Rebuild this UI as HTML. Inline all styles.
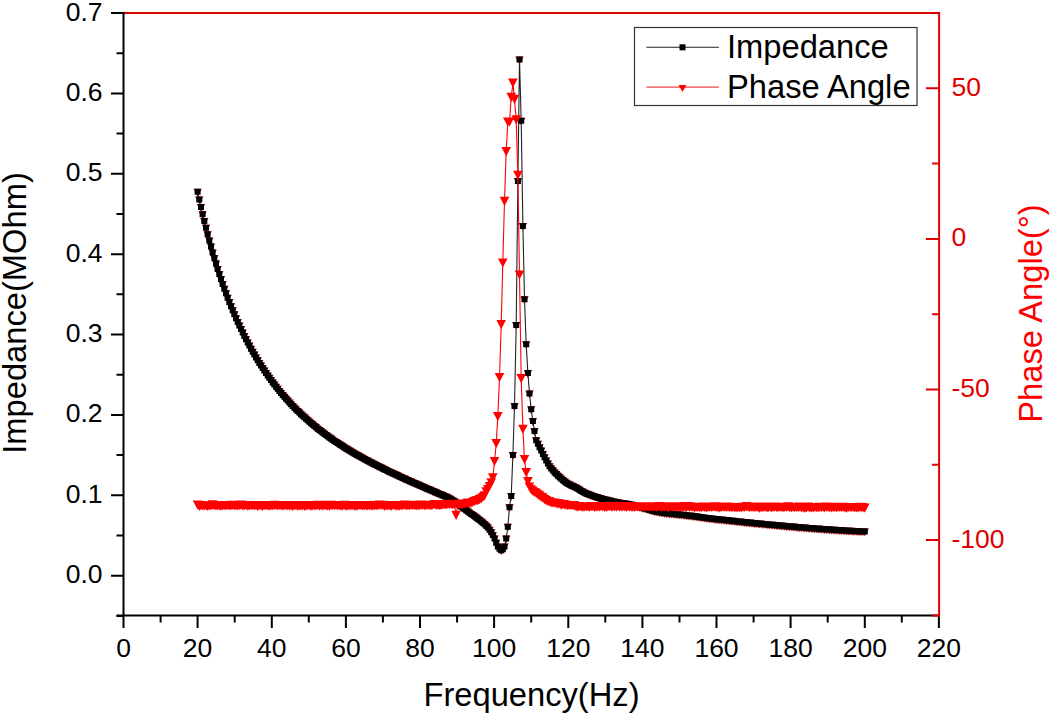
<!DOCTYPE html>
<html><head><meta charset="utf-8"><style>
html,body{margin:0;padding:0;background:#fff;width:1050px;height:715px;overflow:hidden}
svg{display:block}
text{font-family:'Liberation Sans',sans-serif}
</style></head><body>
<svg width="1050" height="715" viewBox="0 0 1050 715">
<rect width="1050" height="715" fill="#fff"/>
<!-- data -->
<path d="M197.6 191.8 L199.3 199.5 L201 207 L202.6 214.2 L204.3 221.1 L206 227.8 L207.6 234.3 L209.3 240.5 L211 246.6 L212.6 252.4 L214.3 258.1 L216 263.6 L217.6 268.9 L219.3 274.1 L221 279.1 L222.6 284 L224.3 288.7 L226 293.3 L227.6 297.7 L229.3 302 L231 306.2 L232.7 310.3 L234.3 314.3 L236 318.2 L237.7 321.9 L239.3 325.6 L241 329.1 L242.7 332.6 L244.3 336 L246 339.3 L247.7 342.5 L249.3 345.6 L251 348.7 L252.7 351.7 L254.3 354.6 L256 357.4 L257.7 360.2 L259.3 362.9 L261 365.5 L262.7 368.1 L264.3 370.6 L266 373.1 L267.7 375.5 L269.3 377.8 L271 380.1 L272.7 382.4 L274.3 384.6 L276 386.7 L277.7 388.8 L279.4 390.9 L281 392.9 L282.7 394.9 L284.4 396.8 L286 398.7 L287.7 400.6 L289.4 402.4 L291 404.2 L292.7 406 L294.4 407.7 L296 409.4 L297.7 411 L299.4 412.6 L301 414.2 L302.7 415.8 L304.4 417.3 L306 418.8 L307.7 420.3 L309.4 421.8 L311 423.2 L312.7 424.6 L314.4 426 L316 427.3 L317.7 428.7 L319.4 430 L321 431.3 L322.7 432.5 L324.4 433.8 L326.1 435 L327.7 436.2 L329.4 437.4 L331.1 438.6 L332.7 439.7 L334.4 440.9 L336.1 442 L337.7 443.1 L339.4 444.2 L341.1 445.3 L342.7 446.3 L344.4 447.4 L346.1 448.4 L347.7 449.4 L349.4 450.5 L351.1 451.5 L352.7 452.4 L354.4 453.4 L356.1 454.4 L357.7 455.3 L359.4 456.3 L361.1 457.2 L362.7 458.1 L364.4 459 L366.1 459.9 L367.7 460.8 L369.4 461.7 L371.1 462.6 L372.8 463.4 L374.4 464.3 L376.1 465.1 L377.8 466 L379.4 466.8 L381.1 467.6 L382.8 468.5 L384.4 469.3 L386.1 470.1 L387.8 470.9 L389.4 471.7 L391.1 472.5 L392.8 473.3 L394.4 474 L396.1 474.8 L397.8 475.6 L399.4 476.4 L401.1 477.1 L402.8 477.9 L404.4 478.6 L406.1 479.4 L407.8 480.1 L409.4 480.9 L411.1 481.6 L412.8 482.4 L414.4 483.1 L416.1 483.8 L417.8 484.6 L419.5 485.3 L421.1 486 L422.8 486.7 L424.5 487.5 L426.1 488.2 L427.8 488.9 L429.5 489.6 L431.1 490.3 L432.8 491.1 L434.5 491.8 L436.1 492.5 L437.8 493.2 L439.5 493.9 L441.1 494.6 L442.8 495.3 L444.5 496 L446.1 496.8 L447.8 497.6 L449.5 498.5 L451.1 499.4 L452.8 500.4 L454.5 501.5 L456.1 502.7 L457.8 503.9 L459.5 505.2 L461.1 506.5 L462.8 507.7 L464.5 509 L466.2 510.3 L467.8 511.5 L469.5 512.7 L471.2 513.9 L472.8 515.1 L474.5 516.2 L476.2 517.5 L477.8 518.7 L479.5 520 L481.2 521.4 L482.8 522.8 L484.5 524.2 L486.2 525.8 L487.8 527.6 L489.5 529.7 L491.2 532.2 L492.8 535.1 L494.5 538.4 L496.2 542.7 L497.8 546.4 L499.5 548.8 L501.2 550.2 L502.8 549.2 L504.5 546.6 L506.2 538.5 L507.8 526.8 L509.5 507.2 L511.2 495.9 L512.9 455.1 L514.5 406.1 L516.2 324.9 L517.9 181 L519.5 59.6 L521.2 120.7 L522.9 226 L524.5 299.2 L526.2 344.2 L527.9 373.1 L529.5 393.4 L531.2 409.3 L532.9 421.1 L534.5 431.1 L536.2 440.3 L537.9 443.8 L539.5 447.3 L541.2 450.6 L542.9 453.9 L544.5 457.2 L546.2 460.5 L547.9 463.6 L549.5 466.3 L551.2 468.6 L552.9 470.6 L554.6 472.4 L556.2 474.1 L557.9 475.7 L559.6 477.3 L561.2 478.8 L562.9 480.2 L564.6 481.6 L566.2 482.7 L567.9 483.7 L569.6 484.6 L571.2 485.4 L572.9 486.1 L574.6 486.9 L576.2 487.8 L577.9 488.8 L579.6 489.8 L581.2 490.9 L582.9 491.8 L584.6 492.7 L586.2 493.4 L587.9 494 L589.6 494.7 L591.2 495.3 L592.9 495.9 L594.6 496.5 L596.2 497 L597.9 497.5 L599.6 498 L601.3 498.5 L602.9 499 L604.6 499.4 L606.3 499.8 L607.9 500.2 L609.6 500.6 L611.3 501 L612.9 501.4 L614.6 501.7 L616.3 502.1 L617.9 502.4 L619.6 502.7 L621.3 503 L622.9 503.2 L624.6 503.5 L626.3 503.8 L627.9 504.1 L629.6 504.5 L631.3 504.8 L632.9 505.2 L634.6 505.6 L636.3 506 L637.9 506.4 L639.6 506.9 L641.3 507.4 L642.9 507.9 L644.6 508.3 L646.3 508.8 L648 509.3 L649.6 509.8 L651.3 510.2 L653 510.7 L654.6 511.1 L656.3 511.5 L658 511.8 L659.6 512.1 L661.3 512.4 L663 512.6 L664.6 512.9 L666.3 513.1 L668 513.3 L669.6 513.5 L671.3 513.7 L673 513.8 L674.6 514 L676.3 514.2 L678 514.3 L679.6 514.5 L681.3 514.7 L683 514.8 L684.6 515 L686.3 515.2 L688 515.4 L689.6 515.6 L691.3 515.8 L693 516.1 L694.7 516.3 L696.3 516.5 L698 516.7 L699.7 517 L701.3 517.2 L703 517.4 L704.7 517.7 L706.3 517.9 L708 518.1 L709.7 518.3 L711.3 518.5 L713 518.7 L714.7 518.9 L716.3 519.1 L718 519.3 L719.7 519.4 L721.3 519.6 L723 519.8 L724.7 520 L726.3 520.1 L728 520.3 L729.7 520.5 L731.3 520.7 L733 520.8 L734.7 521 L736.3 521.2 L738 521.4 L739.7 521.5 L741.4 521.7 L743 521.9 L744.7 522.1 L746.4 522.2 L748 522.4 L749.7 522.6 L751.4 522.7 L753 522.9 L754.7 523.1 L756.4 523.2 L758 523.4 L759.7 523.6 L761.4 523.7 L763 523.9 L764.7 524 L766.4 524.2 L768 524.4 L769.7 524.5 L771.4 524.7 L773 524.8 L774.7 525 L776.4 525.1 L778 525.3 L779.7 525.5 L781.4 525.6 L783 525.8 L784.7 525.9 L786.4 526.1 L788.1 526.2 L789.7 526.3 L791.4 526.5 L793.1 526.6 L794.7 526.8 L796.4 526.9 L798.1 527.1 L799.7 527.2 L801.4 527.3 L803.1 527.5 L804.7 527.6 L806.4 527.7 L808.1 527.9 L809.7 528 L811.4 528.1 L813.1 528.3 L814.7 528.4 L816.4 528.5 L818.1 528.6 L819.7 528.8 L821.4 528.9 L823.1 529 L824.7 529.1 L826.4 529.2 L828.1 529.3 L829.7 529.5 L831.4 529.6 L833.1 529.7 L834.8 529.8 L836.4 529.9 L838.1 530 L839.8 530.1 L841.4 530.2 L843.1 530.3 L844.8 530.4 L846.4 530.5 L848.1 530.6 L849.8 530.7 L851.4 530.8 L853.1 530.9 L854.8 530.9 L856.4 531 L858.1 531.1 L859.8 531.2 L861.4 531.3 L863.1 531.3 L864.8 531.4" fill="none" stroke="#222" stroke-width="1.1"/>
<path d="M193.4 188.8h8.4l-4.2 7.8zM195.1 196.5h8.4l-4.2 7.8zM196.8 204h8.4l-4.2 7.8zM198.4 211.2h8.4l-4.2 7.8zM200.1 218.1h8.4l-4.2 7.8zM201.8 224.8h8.4l-4.2 7.8zM203.4 231.3h8.4l-4.2 7.8zM205.1 237.5h8.4l-4.2 7.8zM206.8 243.6h8.4l-4.2 7.8zM208.4 249.4h8.4l-4.2 7.8zM210.1 255.1h8.4l-4.2 7.8zM211.8 260.6h8.4l-4.2 7.8zM213.4 265.9h8.4l-4.2 7.8zM215.1 271.1h8.4l-4.2 7.8zM216.8 276.1h8.4l-4.2 7.8zM218.4 281h8.4l-4.2 7.8zM220.1 285.7h8.4l-4.2 7.8zM221.8 290.3h8.4l-4.2 7.8zM223.4 294.7h8.4l-4.2 7.8zM225.1 299h8.4l-4.2 7.8zM226.8 303.2h8.4l-4.2 7.8zM228.5 307.3h8.4l-4.2 7.8zM230.1 311.3h8.4l-4.2 7.8zM231.8 315.2h8.4l-4.2 7.8zM233.5 318.9h8.4l-4.2 7.8zM235.1 322.6h8.4l-4.2 7.8zM236.8 326.1h8.4l-4.2 7.8zM238.5 329.6h8.4l-4.2 7.8zM240.1 333h8.4l-4.2 7.8zM241.8 336.3h8.4l-4.2 7.8zM243.5 339.5h8.4l-4.2 7.8zM245.1 342.6h8.4l-4.2 7.8zM246.8 345.7h8.4l-4.2 7.8zM248.5 348.7h8.4l-4.2 7.8zM250.1 351.6h8.4l-4.2 7.8zM251.8 354.4h8.4l-4.2 7.8zM253.5 357.2h8.4l-4.2 7.8zM255.1 359.9h8.4l-4.2 7.8zM256.8 362.5h8.4l-4.2 7.8zM258.5 365.1h8.4l-4.2 7.8zM260.1 367.6h8.4l-4.2 7.8zM261.8 370.1h8.4l-4.2 7.8zM263.5 372.5h8.4l-4.2 7.8zM265.1 374.8h8.4l-4.2 7.8zM266.8 377.1h8.4l-4.2 7.8zM268.5 379.4h8.4l-4.2 7.8zM270.1 381.6h8.4l-4.2 7.8zM271.8 383.7h8.4l-4.2 7.8zM273.5 385.8h8.4l-4.2 7.8zM275.2 387.9h8.4l-4.2 7.8zM276.8 389.9h8.4l-4.2 7.8zM278.5 391.9h8.4l-4.2 7.8zM280.2 393.8h8.4l-4.2 7.8zM281.8 395.7h8.4l-4.2 7.8zM283.5 397.6h8.4l-4.2 7.8zM285.2 399.4h8.4l-4.2 7.8zM286.8 401.2h8.4l-4.2 7.8zM288.5 403h8.4l-4.2 7.8zM290.2 404.7h8.4l-4.2 7.8zM291.8 406.4h8.4l-4.2 7.8zM293.5 408h8.4l-4.2 7.8zM295.2 409.6h8.4l-4.2 7.8zM296.8 411.2h8.4l-4.2 7.8zM298.5 412.8h8.4l-4.2 7.8zM300.2 414.3h8.4l-4.2 7.8zM301.8 415.8h8.4l-4.2 7.8zM303.5 417.3h8.4l-4.2 7.8zM305.2 418.8h8.4l-4.2 7.8zM306.8 420.2h8.4l-4.2 7.8zM308.5 421.6h8.4l-4.2 7.8zM310.2 423h8.4l-4.2 7.8zM311.8 424.3h8.4l-4.2 7.8zM313.5 425.7h8.4l-4.2 7.8zM315.2 427h8.4l-4.2 7.8zM316.8 428.3h8.4l-4.2 7.8zM318.5 429.5h8.4l-4.2 7.8zM320.2 430.8h8.4l-4.2 7.8zM321.9 432h8.4l-4.2 7.8zM323.5 433.2h8.4l-4.2 7.8zM325.2 434.4h8.4l-4.2 7.8zM326.9 435.6h8.4l-4.2 7.8zM328.5 436.7h8.4l-4.2 7.8zM330.2 437.9h8.4l-4.2 7.8zM331.9 439h8.4l-4.2 7.8zM333.5 440.1h8.4l-4.2 7.8zM335.2 441.2h8.4l-4.2 7.8zM336.9 442.3h8.4l-4.2 7.8zM338.5 443.3h8.4l-4.2 7.8zM340.2 444.4h8.4l-4.2 7.8zM341.9 445.4h8.4l-4.2 7.8zM343.5 446.4h8.4l-4.2 7.8zM345.2 447.5h8.4l-4.2 7.8zM346.9 448.5h8.4l-4.2 7.8zM348.5 449.4h8.4l-4.2 7.8zM350.2 450.4h8.4l-4.2 7.8zM351.9 451.4h8.4l-4.2 7.8zM353.5 452.3h8.4l-4.2 7.8zM355.2 453.3h8.4l-4.2 7.8zM356.9 454.2h8.4l-4.2 7.8zM358.5 455.1h8.4l-4.2 7.8zM360.2 456h8.4l-4.2 7.8zM361.9 456.9h8.4l-4.2 7.8zM363.5 457.8h8.4l-4.2 7.8zM365.2 458.7h8.4l-4.2 7.8zM366.9 459.6h8.4l-4.2 7.8zM368.6 460.4h8.4l-4.2 7.8zM370.2 461.3h8.4l-4.2 7.8zM371.9 462.1h8.4l-4.2 7.8zM373.6 463h8.4l-4.2 7.8zM375.2 463.8h8.4l-4.2 7.8zM376.9 464.6h8.4l-4.2 7.8zM378.6 465.5h8.4l-4.2 7.8zM380.2 466.3h8.4l-4.2 7.8zM381.9 467.1h8.4l-4.2 7.8zM383.6 467.9h8.4l-4.2 7.8zM385.2 468.7h8.4l-4.2 7.8zM386.9 469.5h8.4l-4.2 7.8zM388.6 470.3h8.4l-4.2 7.8zM390.2 471h8.4l-4.2 7.8zM391.9 471.8h8.4l-4.2 7.8zM393.6 472.6h8.4l-4.2 7.8zM395.2 473.4h8.4l-4.2 7.8zM396.9 474.1h8.4l-4.2 7.8zM398.6 474.9h8.4l-4.2 7.8zM400.2 475.6h8.4l-4.2 7.8zM401.9 476.4h8.4l-4.2 7.8zM403.6 477.1h8.4l-4.2 7.8zM405.2 477.9h8.4l-4.2 7.8zM406.9 478.6h8.4l-4.2 7.8zM408.6 479.4h8.4l-4.2 7.8zM410.2 480.1h8.4l-4.2 7.8zM411.9 480.8h8.4l-4.2 7.8zM413.6 481.6h8.4l-4.2 7.8zM415.3 482.3h8.4l-4.2 7.8zM416.9 483h8.4l-4.2 7.8zM418.6 483.7h8.4l-4.2 7.8zM420.3 484.5h8.4l-4.2 7.8zM421.9 485.2h8.4l-4.2 7.8zM423.6 485.9h8.4l-4.2 7.8zM425.3 486.6h8.4l-4.2 7.8zM426.9 487.3h8.4l-4.2 7.8zM428.6 488.1h8.4l-4.2 7.8zM430.3 488.8h8.4l-4.2 7.8zM431.9 489.5h8.4l-4.2 7.8zM433.6 490.2h8.4l-4.2 7.8zM435.3 490.9h8.4l-4.2 7.8zM436.9 491.6h8.4l-4.2 7.8zM438.6 492.3h8.4l-4.2 7.8zM440.3 493h8.4l-4.2 7.8zM441.9 493.8h8.4l-4.2 7.8zM443.6 494.6h8.4l-4.2 7.8zM445.3 495.5h8.4l-4.2 7.8zM446.9 496.4h8.4l-4.2 7.8zM448.6 497.4h8.4l-4.2 7.8zM450.3 498.5h8.4l-4.2 7.8zM451.9 499.7h8.4l-4.2 7.8zM453.6 500.9h8.4l-4.2 7.8zM455.3 502.2h8.4l-4.2 7.8zM456.9 503.5h8.4l-4.2 7.8zM458.6 504.7h8.4l-4.2 7.8zM460.3 506h8.4l-4.2 7.8zM462 507.3h8.4l-4.2 7.8zM463.6 508.5h8.4l-4.2 7.8zM465.3 509.7h8.4l-4.2 7.8zM467 510.9h8.4l-4.2 7.8zM468.6 512.1h8.4l-4.2 7.8zM470.3 513.2h8.4l-4.2 7.8zM472 514.5h8.4l-4.2 7.8zM473.6 515.7h8.4l-4.2 7.8zM475.3 517h8.4l-4.2 7.8zM477 518.4h8.4l-4.2 7.8zM478.6 519.8h8.4l-4.2 7.8zM480.3 521.2h8.4l-4.2 7.8zM482 522.8h8.4l-4.2 7.8zM483.6 524.6h8.4l-4.2 7.8zM485.3 526.7h8.4l-4.2 7.8zM487 529.2h8.4l-4.2 7.8zM488.6 532.1h8.4l-4.2 7.8zM490.3 535.4h8.4l-4.2 7.8zM492 539.7h8.4l-4.2 7.8zM493.6 543.4h8.4l-4.2 7.8zM495.3 545.8h8.4l-4.2 7.8zM497 547.2h8.4l-4.2 7.8zM498.6 546.2h8.4l-4.2 7.8zM500.3 543.6h8.4l-4.2 7.8zM502 535.5h8.4l-4.2 7.8zM503.6 523.8h8.4l-4.2 7.8zM505.3 504.2h8.4l-4.2 7.8zM507 492.9h8.4l-4.2 7.8zM508.7 452.1h8.4l-4.2 7.8zM510.3 403.1h8.4l-4.2 7.8zM512 321.9h8.4l-4.2 7.8zM513.7 178h8.4l-4.2 7.8zM515.3 56.6h8.4l-4.2 7.8zM517 117.7h8.4l-4.2 7.8zM518.7 223h8.4l-4.2 7.8zM520.3 296.2h8.4l-4.2 7.8zM522 341.2h8.4l-4.2 7.8zM523.7 370.1h8.4l-4.2 7.8zM525.3 390.4h8.4l-4.2 7.8zM527 406.3h8.4l-4.2 7.8zM528.7 418.1h8.4l-4.2 7.8zM530.3 428.1h8.4l-4.2 7.8zM532 437.3h8.4l-4.2 7.8zM533.7 440.8h8.4l-4.2 7.8zM535.3 444.3h8.4l-4.2 7.8zM537 447.6h8.4l-4.2 7.8zM538.7 450.9h8.4l-4.2 7.8zM540.3 454.2h8.4l-4.2 7.8zM542 457.5h8.4l-4.2 7.8zM543.7 460.6h8.4l-4.2 7.8zM545.3 463.3h8.4l-4.2 7.8zM547 465.6h8.4l-4.2 7.8zM548.7 467.6h8.4l-4.2 7.8zM550.4 469.4h8.4l-4.2 7.8zM552 471.1h8.4l-4.2 7.8zM553.7 472.7h8.4l-4.2 7.8zM555.4 474.3h8.4l-4.2 7.8zM557 475.8h8.4l-4.2 7.8zM558.7 477.2h8.4l-4.2 7.8zM560.4 478.6h8.4l-4.2 7.8zM562 479.7h8.4l-4.2 7.8zM563.7 480.7h8.4l-4.2 7.8zM565.4 481.6h8.4l-4.2 7.8zM567 482.4h8.4l-4.2 7.8zM568.7 483.1h8.4l-4.2 7.8zM570.4 483.9h8.4l-4.2 7.8zM572 484.8h8.4l-4.2 7.8zM573.7 485.8h8.4l-4.2 7.8zM575.4 486.8h8.4l-4.2 7.8zM577 487.9h8.4l-4.2 7.8zM578.7 488.8h8.4l-4.2 7.8zM580.4 489.7h8.4l-4.2 7.8zM582 490.4h8.4l-4.2 7.8zM583.7 491h8.4l-4.2 7.8zM585.4 491.7h8.4l-4.2 7.8zM587 492.3h8.4l-4.2 7.8zM588.7 492.9h8.4l-4.2 7.8zM590.4 493.5h8.4l-4.2 7.8zM592 494h8.4l-4.2 7.8zM593.7 494.5h8.4l-4.2 7.8zM595.4 495h8.4l-4.2 7.8zM597.1 495.5h8.4l-4.2 7.8zM598.7 496h8.4l-4.2 7.8zM600.4 496.4h8.4l-4.2 7.8zM602.1 496.8h8.4l-4.2 7.8zM603.7 497.2h8.4l-4.2 7.8zM605.4 497.6h8.4l-4.2 7.8zM607.1 498h8.4l-4.2 7.8zM608.7 498.4h8.4l-4.2 7.8zM610.4 498.7h8.4l-4.2 7.8zM612.1 499.1h8.4l-4.2 7.8zM613.7 499.4h8.4l-4.2 7.8zM615.4 499.7h8.4l-4.2 7.8zM617.1 500h8.4l-4.2 7.8zM618.7 500.2h8.4l-4.2 7.8zM620.4 500.5h8.4l-4.2 7.8zM622.1 500.8h8.4l-4.2 7.8zM623.7 501.1h8.4l-4.2 7.8zM625.4 501.5h8.4l-4.2 7.8zM627.1 501.8h8.4l-4.2 7.8zM628.7 502.2h8.4l-4.2 7.8zM630.4 502.6h8.4l-4.2 7.8zM632.1 503h8.4l-4.2 7.8zM633.7 503.4h8.4l-4.2 7.8zM635.4 503.9h8.4l-4.2 7.8zM637.1 504.4h8.4l-4.2 7.8zM638.7 504.9h8.4l-4.2 7.8zM640.4 505.3h8.4l-4.2 7.8zM642.1 505.8h8.4l-4.2 7.8zM643.8 506.3h8.4l-4.2 7.8zM645.4 506.8h8.4l-4.2 7.8zM647.1 507.2h8.4l-4.2 7.8zM648.8 507.7h8.4l-4.2 7.8zM650.4 508.1h8.4l-4.2 7.8zM652.1 508.5h8.4l-4.2 7.8zM653.8 508.8h8.4l-4.2 7.8zM655.4 509.1h8.4l-4.2 7.8zM657.1 509.4h8.4l-4.2 7.8zM658.8 509.6h8.4l-4.2 7.8zM660.4 509.9h8.4l-4.2 7.8zM662.1 510.1h8.4l-4.2 7.8zM663.8 510.3h8.4l-4.2 7.8zM665.4 510.5h8.4l-4.2 7.8zM667.1 510.7h8.4l-4.2 7.8zM668.8 510.8h8.4l-4.2 7.8zM670.4 511h8.4l-4.2 7.8zM672.1 511.2h8.4l-4.2 7.8zM673.8 511.3h8.4l-4.2 7.8zM675.4 511.5h8.4l-4.2 7.8zM677.1 511.7h8.4l-4.2 7.8zM678.8 511.8h8.4l-4.2 7.8zM680.4 512h8.4l-4.2 7.8zM682.1 512.2h8.4l-4.2 7.8zM683.8 512.4h8.4l-4.2 7.8zM685.4 512.6h8.4l-4.2 7.8zM687.1 512.8h8.4l-4.2 7.8zM688.8 513.1h8.4l-4.2 7.8zM690.5 513.3h8.4l-4.2 7.8zM692.1 513.5h8.4l-4.2 7.8zM693.8 513.7h8.4l-4.2 7.8zM695.5 514h8.4l-4.2 7.8zM697.1 514.2h8.4l-4.2 7.8zM698.8 514.4h8.4l-4.2 7.8zM700.5 514.7h8.4l-4.2 7.8zM702.1 514.9h8.4l-4.2 7.8zM703.8 515.1h8.4l-4.2 7.8zM705.5 515.3h8.4l-4.2 7.8zM707.1 515.5h8.4l-4.2 7.8zM708.8 515.7h8.4l-4.2 7.8zM710.5 515.9h8.4l-4.2 7.8zM712.1 516.1h8.4l-4.2 7.8zM713.8 516.3h8.4l-4.2 7.8zM715.5 516.4h8.4l-4.2 7.8zM717.1 516.6h8.4l-4.2 7.8zM718.8 516.8h8.4l-4.2 7.8zM720.5 517h8.4l-4.2 7.8zM722.1 517.1h8.4l-4.2 7.8zM723.8 517.3h8.4l-4.2 7.8zM725.5 517.5h8.4l-4.2 7.8zM727.1 517.7h8.4l-4.2 7.8zM728.8 517.8h8.4l-4.2 7.8zM730.5 518h8.4l-4.2 7.8zM732.1 518.2h8.4l-4.2 7.8zM733.8 518.4h8.4l-4.2 7.8zM735.5 518.5h8.4l-4.2 7.8zM737.2 518.7h8.4l-4.2 7.8zM738.8 518.9h8.4l-4.2 7.8zM740.5 519.1h8.4l-4.2 7.8zM742.2 519.2h8.4l-4.2 7.8zM743.8 519.4h8.4l-4.2 7.8zM745.5 519.6h8.4l-4.2 7.8zM747.2 519.7h8.4l-4.2 7.8zM748.8 519.9h8.4l-4.2 7.8zM750.5 520.1h8.4l-4.2 7.8zM752.2 520.2h8.4l-4.2 7.8zM753.8 520.4h8.4l-4.2 7.8zM755.5 520.6h8.4l-4.2 7.8zM757.2 520.7h8.4l-4.2 7.8zM758.8 520.9h8.4l-4.2 7.8zM760.5 521h8.4l-4.2 7.8zM762.2 521.2h8.4l-4.2 7.8zM763.8 521.4h8.4l-4.2 7.8zM765.5 521.5h8.4l-4.2 7.8zM767.2 521.7h8.4l-4.2 7.8zM768.8 521.8h8.4l-4.2 7.8zM770.5 522h8.4l-4.2 7.8zM772.2 522.1h8.4l-4.2 7.8zM773.8 522.3h8.4l-4.2 7.8zM775.5 522.5h8.4l-4.2 7.8zM777.2 522.6h8.4l-4.2 7.8zM778.8 522.8h8.4l-4.2 7.8zM780.5 522.9h8.4l-4.2 7.8zM782.2 523.1h8.4l-4.2 7.8zM783.9 523.2h8.4l-4.2 7.8zM785.5 523.3h8.4l-4.2 7.8zM787.2 523.5h8.4l-4.2 7.8zM788.9 523.6h8.4l-4.2 7.8zM790.5 523.8h8.4l-4.2 7.8zM792.2 523.9h8.4l-4.2 7.8zM793.9 524.1h8.4l-4.2 7.8zM795.5 524.2h8.4l-4.2 7.8zM797.2 524.3h8.4l-4.2 7.8zM798.9 524.5h8.4l-4.2 7.8zM800.5 524.6h8.4l-4.2 7.8zM802.2 524.7h8.4l-4.2 7.8zM803.9 524.9h8.4l-4.2 7.8zM805.5 525h8.4l-4.2 7.8zM807.2 525.1h8.4l-4.2 7.8zM808.9 525.3h8.4l-4.2 7.8zM810.5 525.4h8.4l-4.2 7.8zM812.2 525.5h8.4l-4.2 7.8zM813.9 525.6h8.4l-4.2 7.8zM815.5 525.8h8.4l-4.2 7.8zM817.2 525.9h8.4l-4.2 7.8zM818.9 526h8.4l-4.2 7.8zM820.5 526.1h8.4l-4.2 7.8zM822.2 526.2h8.4l-4.2 7.8zM823.9 526.3h8.4l-4.2 7.8zM825.5 526.5h8.4l-4.2 7.8zM827.2 526.6h8.4l-4.2 7.8zM828.9 526.7h8.4l-4.2 7.8zM830.6 526.8h8.4l-4.2 7.8zM832.2 526.9h8.4l-4.2 7.8zM833.9 527h8.4l-4.2 7.8zM835.6 527.1h8.4l-4.2 7.8zM837.2 527.2h8.4l-4.2 7.8zM838.9 527.3h8.4l-4.2 7.8zM840.6 527.4h8.4l-4.2 7.8zM842.2 527.5h8.4l-4.2 7.8zM843.9 527.6h8.4l-4.2 7.8zM845.6 527.7h8.4l-4.2 7.8zM847.2 527.8h8.4l-4.2 7.8zM848.9 527.9h8.4l-4.2 7.8zM850.6 527.9h8.4l-4.2 7.8zM852.2 528h8.4l-4.2 7.8zM853.9 528.1h8.4l-4.2 7.8zM855.6 528.2h8.4l-4.2 7.8zM857.2 528.3h8.4l-4.2 7.8zM858.9 528.3h8.4l-4.2 7.8zM860.6 528.4h8.4l-4.2 7.8z" fill="#900"/>
<path d="M194.6 188.8h6.0v6.0h-6.0zM196.3 196.5h6.0v6.0h-6.0zM198 204h6.0v6.0h-6.0zM199.6 211.2h6.0v6.0h-6.0zM201.3 218.1h6.0v6.0h-6.0zM203 224.8h6.0v6.0h-6.0zM204.6 231.3h6.0v6.0h-6.0zM206.3 237.5h6.0v6.0h-6.0zM208 243.6h6.0v6.0h-6.0zM209.6 249.4h6.0v6.0h-6.0zM211.3 255.1h6.0v6.0h-6.0zM213 260.6h6.0v6.0h-6.0zM214.6 265.9h6.0v6.0h-6.0zM216.3 271.1h6.0v6.0h-6.0zM218 276.1h6.0v6.0h-6.0zM219.6 281h6.0v6.0h-6.0zM221.3 285.7h6.0v6.0h-6.0zM223 290.3h6.0v6.0h-6.0zM224.6 294.7h6.0v6.0h-6.0zM226.3 299h6.0v6.0h-6.0zM228 303.2h6.0v6.0h-6.0zM229.7 307.3h6.0v6.0h-6.0zM231.3 311.3h6.0v6.0h-6.0zM233 315.2h6.0v6.0h-6.0zM234.7 318.9h6.0v6.0h-6.0zM236.3 322.6h6.0v6.0h-6.0zM238 326.1h6.0v6.0h-6.0zM239.7 329.6h6.0v6.0h-6.0zM241.3 333h6.0v6.0h-6.0zM243 336.3h6.0v6.0h-6.0zM244.7 339.5h6.0v6.0h-6.0zM246.3 342.6h6.0v6.0h-6.0zM248 345.7h6.0v6.0h-6.0zM249.7 348.7h6.0v6.0h-6.0zM251.3 351.6h6.0v6.0h-6.0zM253 354.4h6.0v6.0h-6.0zM254.7 357.2h6.0v6.0h-6.0zM256.3 359.9h6.0v6.0h-6.0zM258 362.5h6.0v6.0h-6.0zM259.7 365.1h6.0v6.0h-6.0zM261.3 367.6h6.0v6.0h-6.0zM263 370.1h6.0v6.0h-6.0zM264.7 372.5h6.0v6.0h-6.0zM266.3 374.8h6.0v6.0h-6.0zM268 377.1h6.0v6.0h-6.0zM269.7 379.4h6.0v6.0h-6.0zM271.3 381.6h6.0v6.0h-6.0zM273 383.7h6.0v6.0h-6.0zM274.7 385.8h6.0v6.0h-6.0zM276.4 387.9h6.0v6.0h-6.0zM278 389.9h6.0v6.0h-6.0zM279.7 391.9h6.0v6.0h-6.0zM281.4 393.8h6.0v6.0h-6.0zM283 395.7h6.0v6.0h-6.0zM284.7 397.6h6.0v6.0h-6.0zM286.4 399.4h6.0v6.0h-6.0zM288 401.2h6.0v6.0h-6.0zM289.7 403h6.0v6.0h-6.0zM291.4 404.7h6.0v6.0h-6.0zM293 406.4h6.0v6.0h-6.0zM294.7 408h6.0v6.0h-6.0zM296.4 409.6h6.0v6.0h-6.0zM298 411.2h6.0v6.0h-6.0zM299.7 412.8h6.0v6.0h-6.0zM301.4 414.3h6.0v6.0h-6.0zM303 415.8h6.0v6.0h-6.0zM304.7 417.3h6.0v6.0h-6.0zM306.4 418.8h6.0v6.0h-6.0zM308 420.2h6.0v6.0h-6.0zM309.7 421.6h6.0v6.0h-6.0zM311.4 423h6.0v6.0h-6.0zM313 424.3h6.0v6.0h-6.0zM314.7 425.7h6.0v6.0h-6.0zM316.4 427h6.0v6.0h-6.0zM318 428.3h6.0v6.0h-6.0zM319.7 429.5h6.0v6.0h-6.0zM321.4 430.8h6.0v6.0h-6.0zM323.1 432h6.0v6.0h-6.0zM324.7 433.2h6.0v6.0h-6.0zM326.4 434.4h6.0v6.0h-6.0zM328.1 435.6h6.0v6.0h-6.0zM329.7 436.7h6.0v6.0h-6.0zM331.4 437.9h6.0v6.0h-6.0zM333.1 439h6.0v6.0h-6.0zM334.7 440.1h6.0v6.0h-6.0zM336.4 441.2h6.0v6.0h-6.0zM338.1 442.3h6.0v6.0h-6.0zM339.7 443.3h6.0v6.0h-6.0zM341.4 444.4h6.0v6.0h-6.0zM343.1 445.4h6.0v6.0h-6.0zM344.7 446.4h6.0v6.0h-6.0zM346.4 447.5h6.0v6.0h-6.0zM348.1 448.5h6.0v6.0h-6.0zM349.7 449.4h6.0v6.0h-6.0zM351.4 450.4h6.0v6.0h-6.0zM353.1 451.4h6.0v6.0h-6.0zM354.7 452.3h6.0v6.0h-6.0zM356.4 453.3h6.0v6.0h-6.0zM358.1 454.2h6.0v6.0h-6.0zM359.7 455.1h6.0v6.0h-6.0zM361.4 456h6.0v6.0h-6.0zM363.1 456.9h6.0v6.0h-6.0zM364.7 457.8h6.0v6.0h-6.0zM366.4 458.7h6.0v6.0h-6.0zM368.1 459.6h6.0v6.0h-6.0zM369.8 460.4h6.0v6.0h-6.0zM371.4 461.3h6.0v6.0h-6.0zM373.1 462.1h6.0v6.0h-6.0zM374.8 463h6.0v6.0h-6.0zM376.4 463.8h6.0v6.0h-6.0zM378.1 464.6h6.0v6.0h-6.0zM379.8 465.5h6.0v6.0h-6.0zM381.4 466.3h6.0v6.0h-6.0zM383.1 467.1h6.0v6.0h-6.0zM384.8 467.9h6.0v6.0h-6.0zM386.4 468.7h6.0v6.0h-6.0zM388.1 469.5h6.0v6.0h-6.0zM389.8 470.3h6.0v6.0h-6.0zM391.4 471h6.0v6.0h-6.0zM393.1 471.8h6.0v6.0h-6.0zM394.8 472.6h6.0v6.0h-6.0zM396.4 473.4h6.0v6.0h-6.0zM398.1 474.1h6.0v6.0h-6.0zM399.8 474.9h6.0v6.0h-6.0zM401.4 475.6h6.0v6.0h-6.0zM403.1 476.4h6.0v6.0h-6.0zM404.8 477.1h6.0v6.0h-6.0zM406.4 477.9h6.0v6.0h-6.0zM408.1 478.6h6.0v6.0h-6.0zM409.8 479.4h6.0v6.0h-6.0zM411.4 480.1h6.0v6.0h-6.0zM413.1 480.8h6.0v6.0h-6.0zM414.8 481.6h6.0v6.0h-6.0zM416.5 482.3h6.0v6.0h-6.0zM418.1 483h6.0v6.0h-6.0zM419.8 483.7h6.0v6.0h-6.0zM421.5 484.5h6.0v6.0h-6.0zM423.1 485.2h6.0v6.0h-6.0zM424.8 485.9h6.0v6.0h-6.0zM426.5 486.6h6.0v6.0h-6.0zM428.1 487.3h6.0v6.0h-6.0zM429.8 488.1h6.0v6.0h-6.0zM431.5 488.8h6.0v6.0h-6.0zM433.1 489.5h6.0v6.0h-6.0zM434.8 490.2h6.0v6.0h-6.0zM436.5 490.9h6.0v6.0h-6.0zM438.1 491.6h6.0v6.0h-6.0zM439.8 492.3h6.0v6.0h-6.0zM441.5 493h6.0v6.0h-6.0zM443.1 493.8h6.0v6.0h-6.0zM444.8 494.6h6.0v6.0h-6.0zM446.5 495.5h6.0v6.0h-6.0zM448.1 496.4h6.0v6.0h-6.0zM449.8 497.4h6.0v6.0h-6.0zM451.5 498.5h6.0v6.0h-6.0zM453.1 499.7h6.0v6.0h-6.0zM454.8 500.9h6.0v6.0h-6.0zM456.5 502.2h6.0v6.0h-6.0zM458.1 503.5h6.0v6.0h-6.0zM459.8 504.7h6.0v6.0h-6.0zM461.5 506h6.0v6.0h-6.0zM463.2 507.3h6.0v6.0h-6.0zM464.8 508.5h6.0v6.0h-6.0zM466.5 509.7h6.0v6.0h-6.0zM468.2 510.9h6.0v6.0h-6.0zM469.8 512.1h6.0v6.0h-6.0zM471.5 513.2h6.0v6.0h-6.0zM473.2 514.5h6.0v6.0h-6.0zM474.8 515.7h6.0v6.0h-6.0zM476.5 517h6.0v6.0h-6.0zM478.2 518.4h6.0v6.0h-6.0zM479.8 519.8h6.0v6.0h-6.0zM481.5 521.2h6.0v6.0h-6.0zM483.2 522.8h6.0v6.0h-6.0zM484.8 524.6h6.0v6.0h-6.0zM486.5 526.7h6.0v6.0h-6.0zM488.2 529.2h6.0v6.0h-6.0zM489.8 532.1h6.0v6.0h-6.0zM491.5 535.4h6.0v6.0h-6.0zM493.2 539.7h6.0v6.0h-6.0zM494.8 543.4h6.0v6.0h-6.0zM496.5 545.8h6.0v6.0h-6.0zM498.2 547.2h6.0v6.0h-6.0zM499.8 546.2h6.0v6.0h-6.0zM501.5 543.6h6.0v6.0h-6.0zM503.2 535.5h6.0v6.0h-6.0zM504.8 523.8h6.0v6.0h-6.0zM506.5 504.2h6.0v6.0h-6.0zM508.2 492.9h6.0v6.0h-6.0zM509.9 452.1h6.0v6.0h-6.0zM511.5 403.1h6.0v6.0h-6.0zM513.2 321.9h6.0v6.0h-6.0zM514.9 178h6.0v6.0h-6.0zM516.5 56.6h6.0v6.0h-6.0zM518.2 117.7h6.0v6.0h-6.0zM519.9 223h6.0v6.0h-6.0zM521.5 296.2h6.0v6.0h-6.0zM523.2 341.2h6.0v6.0h-6.0zM524.9 370.1h6.0v6.0h-6.0zM526.5 390.4h6.0v6.0h-6.0zM528.2 406.3h6.0v6.0h-6.0zM529.9 418.1h6.0v6.0h-6.0zM531.5 428.1h6.0v6.0h-6.0zM533.2 437.3h6.0v6.0h-6.0zM534.9 440.8h6.0v6.0h-6.0zM536.5 444.3h6.0v6.0h-6.0zM538.2 447.6h6.0v6.0h-6.0zM539.9 450.9h6.0v6.0h-6.0zM541.5 454.2h6.0v6.0h-6.0zM543.2 457.5h6.0v6.0h-6.0zM544.9 460.6h6.0v6.0h-6.0zM546.5 463.3h6.0v6.0h-6.0zM548.2 465.6h6.0v6.0h-6.0zM549.9 467.6h6.0v6.0h-6.0zM551.6 469.4h6.0v6.0h-6.0zM553.2 471.1h6.0v6.0h-6.0zM554.9 472.7h6.0v6.0h-6.0zM556.6 474.3h6.0v6.0h-6.0zM558.2 475.8h6.0v6.0h-6.0zM559.9 477.2h6.0v6.0h-6.0zM561.6 478.6h6.0v6.0h-6.0zM563.2 479.7h6.0v6.0h-6.0zM564.9 480.7h6.0v6.0h-6.0zM566.6 481.6h6.0v6.0h-6.0zM568.2 482.4h6.0v6.0h-6.0zM569.9 483.1h6.0v6.0h-6.0zM571.6 483.9h6.0v6.0h-6.0zM573.2 484.8h6.0v6.0h-6.0zM574.9 485.8h6.0v6.0h-6.0zM576.6 486.8h6.0v6.0h-6.0zM578.2 487.9h6.0v6.0h-6.0zM579.9 488.8h6.0v6.0h-6.0zM581.6 489.7h6.0v6.0h-6.0zM583.2 490.4h6.0v6.0h-6.0zM584.9 491h6.0v6.0h-6.0zM586.6 491.7h6.0v6.0h-6.0zM588.2 492.3h6.0v6.0h-6.0zM589.9 492.9h6.0v6.0h-6.0zM591.6 493.5h6.0v6.0h-6.0zM593.2 494h6.0v6.0h-6.0zM594.9 494.5h6.0v6.0h-6.0zM596.6 495h6.0v6.0h-6.0zM598.3 495.5h6.0v6.0h-6.0zM599.9 496h6.0v6.0h-6.0zM601.6 496.4h6.0v6.0h-6.0zM603.3 496.8h6.0v6.0h-6.0zM604.9 497.2h6.0v6.0h-6.0zM606.6 497.6h6.0v6.0h-6.0zM608.3 498h6.0v6.0h-6.0zM609.9 498.4h6.0v6.0h-6.0zM611.6 498.7h6.0v6.0h-6.0zM613.3 499.1h6.0v6.0h-6.0zM614.9 499.4h6.0v6.0h-6.0zM616.6 499.7h6.0v6.0h-6.0zM618.3 500h6.0v6.0h-6.0zM619.9 500.2h6.0v6.0h-6.0zM621.6 500.5h6.0v6.0h-6.0zM623.3 500.8h6.0v6.0h-6.0zM624.9 501.1h6.0v6.0h-6.0zM626.6 501.5h6.0v6.0h-6.0zM628.3 501.8h6.0v6.0h-6.0zM629.9 502.2h6.0v6.0h-6.0zM631.6 502.6h6.0v6.0h-6.0zM633.3 503h6.0v6.0h-6.0zM634.9 503.4h6.0v6.0h-6.0zM636.6 503.9h6.0v6.0h-6.0zM638.3 504.4h6.0v6.0h-6.0zM639.9 504.9h6.0v6.0h-6.0zM641.6 505.3h6.0v6.0h-6.0zM643.3 505.8h6.0v6.0h-6.0zM645 506.3h6.0v6.0h-6.0zM646.6 506.8h6.0v6.0h-6.0zM648.3 507.2h6.0v6.0h-6.0zM650 507.7h6.0v6.0h-6.0zM651.6 508.1h6.0v6.0h-6.0zM653.3 508.5h6.0v6.0h-6.0zM655 508.8h6.0v6.0h-6.0zM656.6 509.1h6.0v6.0h-6.0zM658.3 509.4h6.0v6.0h-6.0zM660 509.6h6.0v6.0h-6.0zM661.6 509.9h6.0v6.0h-6.0zM663.3 510.1h6.0v6.0h-6.0zM665 510.3h6.0v6.0h-6.0zM666.6 510.5h6.0v6.0h-6.0zM668.3 510.7h6.0v6.0h-6.0zM670 510.8h6.0v6.0h-6.0zM671.6 511h6.0v6.0h-6.0zM673.3 511.2h6.0v6.0h-6.0zM675 511.3h6.0v6.0h-6.0zM676.6 511.5h6.0v6.0h-6.0zM678.3 511.7h6.0v6.0h-6.0zM680 511.8h6.0v6.0h-6.0zM681.6 512h6.0v6.0h-6.0zM683.3 512.2h6.0v6.0h-6.0zM685 512.4h6.0v6.0h-6.0zM686.6 512.6h6.0v6.0h-6.0zM688.3 512.8h6.0v6.0h-6.0zM690 513.1h6.0v6.0h-6.0zM691.7 513.3h6.0v6.0h-6.0zM693.3 513.5h6.0v6.0h-6.0zM695 513.7h6.0v6.0h-6.0zM696.7 514h6.0v6.0h-6.0zM698.3 514.2h6.0v6.0h-6.0zM700 514.4h6.0v6.0h-6.0zM701.7 514.7h6.0v6.0h-6.0zM703.3 514.9h6.0v6.0h-6.0zM705 515.1h6.0v6.0h-6.0zM706.7 515.3h6.0v6.0h-6.0zM708.3 515.5h6.0v6.0h-6.0zM710 515.7h6.0v6.0h-6.0zM711.7 515.9h6.0v6.0h-6.0zM713.3 516.1h6.0v6.0h-6.0zM715 516.3h6.0v6.0h-6.0zM716.7 516.4h6.0v6.0h-6.0zM718.3 516.6h6.0v6.0h-6.0zM720 516.8h6.0v6.0h-6.0zM721.7 517h6.0v6.0h-6.0zM723.3 517.1h6.0v6.0h-6.0zM725 517.3h6.0v6.0h-6.0zM726.7 517.5h6.0v6.0h-6.0zM728.3 517.7h6.0v6.0h-6.0zM730 517.8h6.0v6.0h-6.0zM731.7 518h6.0v6.0h-6.0zM733.3 518.2h6.0v6.0h-6.0zM735 518.4h6.0v6.0h-6.0zM736.7 518.5h6.0v6.0h-6.0zM738.4 518.7h6.0v6.0h-6.0zM740 518.9h6.0v6.0h-6.0zM741.7 519.1h6.0v6.0h-6.0zM743.4 519.2h6.0v6.0h-6.0zM745 519.4h6.0v6.0h-6.0zM746.7 519.6h6.0v6.0h-6.0zM748.4 519.7h6.0v6.0h-6.0zM750 519.9h6.0v6.0h-6.0zM751.7 520.1h6.0v6.0h-6.0zM753.4 520.2h6.0v6.0h-6.0zM755 520.4h6.0v6.0h-6.0zM756.7 520.6h6.0v6.0h-6.0zM758.4 520.7h6.0v6.0h-6.0zM760 520.9h6.0v6.0h-6.0zM761.7 521h6.0v6.0h-6.0zM763.4 521.2h6.0v6.0h-6.0zM765 521.4h6.0v6.0h-6.0zM766.7 521.5h6.0v6.0h-6.0zM768.4 521.7h6.0v6.0h-6.0zM770 521.8h6.0v6.0h-6.0zM771.7 522h6.0v6.0h-6.0zM773.4 522.1h6.0v6.0h-6.0zM775 522.3h6.0v6.0h-6.0zM776.7 522.5h6.0v6.0h-6.0zM778.4 522.6h6.0v6.0h-6.0zM780 522.8h6.0v6.0h-6.0zM781.7 522.9h6.0v6.0h-6.0zM783.4 523.1h6.0v6.0h-6.0zM785.1 523.2h6.0v6.0h-6.0zM786.7 523.3h6.0v6.0h-6.0zM788.4 523.5h6.0v6.0h-6.0zM790.1 523.6h6.0v6.0h-6.0zM791.7 523.8h6.0v6.0h-6.0zM793.4 523.9h6.0v6.0h-6.0zM795.1 524.1h6.0v6.0h-6.0zM796.7 524.2h6.0v6.0h-6.0zM798.4 524.3h6.0v6.0h-6.0zM800.1 524.5h6.0v6.0h-6.0zM801.7 524.6h6.0v6.0h-6.0zM803.4 524.7h6.0v6.0h-6.0zM805.1 524.9h6.0v6.0h-6.0zM806.7 525h6.0v6.0h-6.0zM808.4 525.1h6.0v6.0h-6.0zM810.1 525.3h6.0v6.0h-6.0zM811.7 525.4h6.0v6.0h-6.0zM813.4 525.5h6.0v6.0h-6.0zM815.1 525.6h6.0v6.0h-6.0zM816.7 525.8h6.0v6.0h-6.0zM818.4 525.9h6.0v6.0h-6.0zM820.1 526h6.0v6.0h-6.0zM821.7 526.1h6.0v6.0h-6.0zM823.4 526.2h6.0v6.0h-6.0zM825.1 526.3h6.0v6.0h-6.0zM826.7 526.5h6.0v6.0h-6.0zM828.4 526.6h6.0v6.0h-6.0zM830.1 526.7h6.0v6.0h-6.0zM831.8 526.8h6.0v6.0h-6.0zM833.4 526.9h6.0v6.0h-6.0zM835.1 527h6.0v6.0h-6.0zM836.8 527.1h6.0v6.0h-6.0zM838.4 527.2h6.0v6.0h-6.0zM840.1 527.3h6.0v6.0h-6.0zM841.8 527.4h6.0v6.0h-6.0zM843.4 527.5h6.0v6.0h-6.0zM845.1 527.6h6.0v6.0h-6.0zM846.8 527.7h6.0v6.0h-6.0zM848.4 527.8h6.0v6.0h-6.0zM850.1 527.9h6.0v6.0h-6.0zM851.8 527.9h6.0v6.0h-6.0zM853.4 528h6.0v6.0h-6.0zM855.1 528.1h6.0v6.0h-6.0zM856.8 528.2h6.0v6.0h-6.0zM858.4 528.3h6.0v6.0h-6.0zM860.1 528.3h6.0v6.0h-6.0zM861.8 528.4h6.0v6.0h-6.0z" fill="#000"/>
<path d="M197.6 505.1 L199.3 506.5 L201 505.6 L202.6 505.9 L204.3 505.9 L206 505.8 L207.6 506.4 L209.3 505.8 L211 506 L212.6 504.8 L214.3 505.7 L216 505.9 L217.6 505.9 L219.3 506 L221 506.1 L222.6 505.9 L224.3 505.6 L226 505.9 L227.6 505.5 L229.3 505.9 L231 505.8 L232.7 505.3 L234.3 505.6 L236 506 L237.7 505.9 L239.3 505.6 L241 505.2 L242.7 505.9 L244.3 505.9 L246 505.5 L247.7 506.1 L249.3 505.9 L251 505.6 L252.7 505.6 L254.3 505.8 L256 505.6 L257.7 506.7 L259.3 505.5 L261 506.1 L262.7 506.3 L264.3 505.7 L266 505.6 L267.7 506 L269.3 506.2 L271 505.8 L272.7 505.8 L274.3 505.4 L276 505.6 L277.7 505.8 L279.4 505.5 L281 505.9 L282.7 506.1 L284.4 505.7 L286 505.7 L287.7 505.9 L289.4 506.1 L291 505.8 L292.7 506.6 L294.4 505.6 L296 505.7 L297.7 506.3 L299.4 505.8 L301 506.1 L302.7 505.6 L304.4 506.5 L306 506.1 L307.7 505.6 L309.4 505.5 L311 506.5 L312.7 506 L314.4 505.7 L316 506 L317.7 505.4 L319.4 506.2 L321 505.7 L322.7 506.2 L324.4 505.4 L326.1 505.9 L327.7 506 L329.4 506.4 L331.1 505.3 L332.7 505.6 L334.4 505.6 L336.1 505.5 L337.7 505.7 L339.4 506 L341.1 506.1 L342.7 506.1 L344.4 505.4 L346.1 506.3 L347.7 506 L349.4 505.9 L351.1 505.8 L352.7 505.7 L354.4 506.2 L356.1 506.4 L357.7 505.9 L359.4 505.5 L361.1 505.6 L362.7 505.8 L364.4 505.9 L366.1 505.8 L367.7 505.9 L369.4 505.6 L371.1 506.1 L372.8 505.8 L374.4 505.9 L376.1 505.7 L377.8 505.8 L379.4 505.1 L381.1 505.4 L382.8 505.4 L384.4 506.5 L386.1 506 L387.8 506 L389.4 505.7 L391.1 506.5 L392.8 505.5 L394.4 505.5 L396.1 506.2 L397.8 506.1 L399.4 506.1 L401.1 505.8 L402.8 505.7 L404.4 505.2 L406.1 505.9 L407.8 505.6 L409.4 505.8 L411.1 505.3 L412.8 505.5 L414.4 505.3 L416.1 506 L417.8 505.7 L419.5 505.9 L421.1 505.2 L422.8 505.4 L424.5 505.6 L426.1 505.6 L427.8 505.3 L429.5 505.6 L431.1 505.6 L432.8 505.2 L434.5 504.5 L436.1 505.3 L437.8 505.3 L439.5 505.5 L441.1 505.5 L442.8 504.8 L444.5 504.6 L446.1 504.8 L447.8 504.5 L449.5 504.5 L451.1 504.4 L452.8 504.8 L454.5 504.4 L456.1 515.4 L457.8 504.5 L459.5 504.4 L461.1 504.5 L462.8 504.4 L464.5 504 L466.2 503.8 L467.8 503.1 L469.5 503.1 L471.2 503.1 L472.8 502.4 L474.5 501.5 L476.2 500.9 L477.8 500.6 L479.5 499.6 L481.2 498.8 L482.8 497.3 L484.5 495.8 L486.2 491.9 L487.8 489.5 L489.5 486.5 L491.2 482.9 L492.8 477.8 L494.5 461.5 L496.2 443.7 L497.8 416.6 L499.5 377.5 L501.2 324.7 L502.8 263 L504.5 201.2 L506.2 151.6 L507.8 122 L509.5 122 L511.2 97.3 L512.9 83.2 L514.5 99.4 L516.2 119.9 L517.9 175.3 L519.5 275 L521.2 378.7 L522.9 429.3 L524.5 459.7 L526.2 472.6 L527.9 481.7 L529.5 487.1 L531.2 489.8 L532.9 491.3 L534.5 492.5 L536.2 493.4 L537.9 494.9 L539.5 495.9 L541.2 497.3 L542.9 498.2 L544.5 499.7 L546.2 500.6 L547.9 501.5 L549.5 501.9 L551.2 502.9 L552.9 503.1 L554.6 503 L556.2 503.7 L557.9 504.1 L559.6 503.8 L561.2 505.3 L562.9 504.7 L564.6 504.8 L566.2 505.3 L567.9 505.6 L569.6 505.5 L571.2 505.5 L572.9 505.7 L574.6 505.9 L576.2 506.8 L577.9 507.1 L579.6 506.6 L581.2 507 L582.9 507.4 L584.6 506.9 L586.2 506.9 L587.9 506.9 L589.6 507.3 L591.2 506.7 L592.9 506.7 L594.6 507.3 L596.2 507.2 L597.9 507 L599.6 507.1 L601.3 506.5 L602.9 506.9 L604.6 507.3 L606.3 507.3 L607.9 507 L609.6 506.3 L611.3 507.1 L612.9 507 L614.6 506.9 L616.3 507.1 L617.9 506.4 L619.6 507.2 L621.3 506.9 L622.9 507 L624.6 506.9 L626.3 507.5 L627.9 506.6 L629.6 507.2 L631.3 507.1 L632.9 507.4 L634.6 507.4 L636.3 507 L637.9 506.8 L639.6 506.9 L641.3 506.8 L642.9 506.9 L644.6 507.2 L646.3 506.9 L648 507 L649.6 507.2 L651.3 507 L653 506.8 L654.6 507.1 L656.3 507.3 L658 507 L659.6 506.6 L661.3 507.3 L663 507.2 L664.6 507.3 L666.3 506.9 L668 507.8 L669.6 507.1 L671.3 506.9 L673 507.5 L674.6 506.8 L676.3 507.1 L678 507.4 L679.6 507.2 L681.3 507.7 L683 507.5 L684.6 506.7 L686.3 507.6 L688 506.7 L689.6 507.3 L691.3 507 L693 507.3 L694.7 508 L696.3 507.5 L698 507.3 L699.7 507.7 L701.3 507.7 L703 507.2 L704.7 507.5 L706.3 507.9 L708 507.6 L709.7 507.1 L711.3 507.5 L713 507.1 L714.7 506.9 L716.3 507.4 L718 507.7 L719.7 507.8 L721.3 507.4 L723 507.1 L724.7 507.3 L726.3 507.2 L728 507.5 L729.7 507.3 L731.3 507.6 L733 507.5 L734.7 507.8 L736.3 507.9 L738 507.6 L739.7 507.8 L741.4 507.7 L743 507.3 L744.7 507.5 L746.4 506.6 L748 507.2 L749.7 507.7 L751.4 507.2 L753 507.4 L754.7 507.7 L756.4 507.2 L758 507.7 L759.7 508.4 L761.4 507.3 L763 507.7 L764.7 507.1 L766.4 507.7 L768 507.9 L769.7 507.1 L771.4 507.9 L773 507.5 L774.7 507.1 L776.4 507.5 L778 507.6 L779.7 507.5 L781.4 507.3 L783 507.8 L784.7 507.4 L786.4 507.4 L788.1 506.9 L789.7 507.7 L791.4 507.9 L793.1 507.4 L794.7 507.7 L796.4 507.5 L798.1 507.6 L799.7 507.2 L801.4 507.8 L803.1 507.6 L804.7 508.4 L806.4 507.9 L808.1 507.2 L809.7 507.8 L811.4 507.8 L813.1 508 L814.7 507.5 L816.4 507.6 L818.1 508 L819.7 507.4 L821.4 507.6 L823.1 507.4 L824.7 507.8 L826.4 507.1 L828.1 507.5 L829.7 507.7 L831.4 507.8 L833.1 507.7 L834.8 507.4 L836.4 507.8 L838.1 507.4 L839.8 507.5 L841.4 507.3 L843.1 507.4 L844.8 507.7 L846.4 508.3 L848.1 507.6 L849.8 507.5 L851.4 507.6 L853.1 507.5 L854.8 507.8 L856.4 507.8 L858.1 508 L859.8 507.3 L861.4 507.7 L863.1 507.9 L864.8 508.1" fill="none" stroke="#f00" stroke-width="1.1"/>
<path d="M192.8 500.5h9.6l-4.8 9.2zM194.5 501.9h9.6l-4.8 9.2zM196.2 501h9.6l-4.8 9.2zM197.8 501.3h9.6l-4.8 9.2zM199.5 501.3h9.6l-4.8 9.2zM201.2 501.2h9.6l-4.8 9.2zM202.8 501.8h9.6l-4.8 9.2zM204.5 501.2h9.6l-4.8 9.2zM206.2 501.4h9.6l-4.8 9.2zM207.8 500.2h9.6l-4.8 9.2zM209.5 501.1h9.6l-4.8 9.2zM211.2 501.3h9.6l-4.8 9.2zM212.8 501.3h9.6l-4.8 9.2zM214.5 501.4h9.6l-4.8 9.2zM216.2 501.5h9.6l-4.8 9.2zM217.8 501.3h9.6l-4.8 9.2zM219.5 501h9.6l-4.8 9.2zM221.2 501.3h9.6l-4.8 9.2zM222.8 500.9h9.6l-4.8 9.2zM224.5 501.3h9.6l-4.8 9.2zM226.2 501.2h9.6l-4.8 9.2zM227.9 500.7h9.6l-4.8 9.2zM229.5 501h9.6l-4.8 9.2zM231.2 501.4h9.6l-4.8 9.2zM232.9 501.3h9.6l-4.8 9.2zM234.5 501h9.6l-4.8 9.2zM236.2 500.6h9.6l-4.8 9.2zM237.9 501.3h9.6l-4.8 9.2zM239.5 501.3h9.6l-4.8 9.2zM241.2 500.9h9.6l-4.8 9.2zM242.9 501.5h9.6l-4.8 9.2zM244.5 501.3h9.6l-4.8 9.2zM246.2 501h9.6l-4.8 9.2zM247.9 501h9.6l-4.8 9.2zM249.5 501.2h9.6l-4.8 9.2zM251.2 501h9.6l-4.8 9.2zM252.9 502.1h9.6l-4.8 9.2zM254.5 500.9h9.6l-4.8 9.2zM256.2 501.5h9.6l-4.8 9.2zM257.9 501.7h9.6l-4.8 9.2zM259.5 501.1h9.6l-4.8 9.2zM261.2 501h9.6l-4.8 9.2zM262.9 501.4h9.6l-4.8 9.2zM264.5 501.6h9.6l-4.8 9.2zM266.2 501.2h9.6l-4.8 9.2zM267.9 501.2h9.6l-4.8 9.2zM269.5 500.8h9.6l-4.8 9.2zM271.2 501h9.6l-4.8 9.2zM272.9 501.2h9.6l-4.8 9.2zM274.6 500.9h9.6l-4.8 9.2zM276.2 501.3h9.6l-4.8 9.2zM277.9 501.5h9.6l-4.8 9.2zM279.6 501.1h9.6l-4.8 9.2zM281.2 501.1h9.6l-4.8 9.2zM282.9 501.3h9.6l-4.8 9.2zM284.6 501.5h9.6l-4.8 9.2zM286.2 501.2h9.6l-4.8 9.2zM287.9 502h9.6l-4.8 9.2zM289.6 501h9.6l-4.8 9.2zM291.2 501.1h9.6l-4.8 9.2zM292.9 501.7h9.6l-4.8 9.2zM294.6 501.2h9.6l-4.8 9.2zM296.2 501.5h9.6l-4.8 9.2zM297.9 501h9.6l-4.8 9.2zM299.6 501.9h9.6l-4.8 9.2zM301.2 501.5h9.6l-4.8 9.2zM302.9 501h9.6l-4.8 9.2zM304.6 500.9h9.6l-4.8 9.2zM306.2 501.9h9.6l-4.8 9.2zM307.9 501.4h9.6l-4.8 9.2zM309.6 501.1h9.6l-4.8 9.2zM311.2 501.4h9.6l-4.8 9.2zM312.9 500.8h9.6l-4.8 9.2zM314.6 501.6h9.6l-4.8 9.2zM316.2 501.1h9.6l-4.8 9.2zM317.9 501.6h9.6l-4.8 9.2zM319.6 500.8h9.6l-4.8 9.2zM321.3 501.3h9.6l-4.8 9.2zM322.9 501.4h9.6l-4.8 9.2zM324.6 501.8h9.6l-4.8 9.2zM326.3 500.7h9.6l-4.8 9.2zM327.9 501h9.6l-4.8 9.2zM329.6 501h9.6l-4.8 9.2zM331.3 500.9h9.6l-4.8 9.2zM332.9 501.1h9.6l-4.8 9.2zM334.6 501.4h9.6l-4.8 9.2zM336.3 501.5h9.6l-4.8 9.2zM337.9 501.5h9.6l-4.8 9.2zM339.6 500.8h9.6l-4.8 9.2zM341.3 501.7h9.6l-4.8 9.2zM342.9 501.4h9.6l-4.8 9.2zM344.6 501.3h9.6l-4.8 9.2zM346.3 501.2h9.6l-4.8 9.2zM347.9 501.1h9.6l-4.8 9.2zM349.6 501.6h9.6l-4.8 9.2zM351.3 501.8h9.6l-4.8 9.2zM352.9 501.3h9.6l-4.8 9.2zM354.6 500.9h9.6l-4.8 9.2zM356.3 501h9.6l-4.8 9.2zM357.9 501.2h9.6l-4.8 9.2zM359.6 501.3h9.6l-4.8 9.2zM361.3 501.2h9.6l-4.8 9.2zM362.9 501.3h9.6l-4.8 9.2zM364.6 501h9.6l-4.8 9.2zM366.3 501.5h9.6l-4.8 9.2zM368 501.2h9.6l-4.8 9.2zM369.6 501.3h9.6l-4.8 9.2zM371.3 501.1h9.6l-4.8 9.2zM373 501.2h9.6l-4.8 9.2zM374.6 500.5h9.6l-4.8 9.2zM376.3 500.8h9.6l-4.8 9.2zM378 500.8h9.6l-4.8 9.2zM379.6 501.9h9.6l-4.8 9.2zM381.3 501.4h9.6l-4.8 9.2zM383 501.4h9.6l-4.8 9.2zM384.6 501.1h9.6l-4.8 9.2zM386.3 501.9h9.6l-4.8 9.2zM388 500.9h9.6l-4.8 9.2zM389.6 500.9h9.6l-4.8 9.2zM391.3 501.6h9.6l-4.8 9.2zM393 501.5h9.6l-4.8 9.2zM394.6 501.5h9.6l-4.8 9.2zM396.3 501.2h9.6l-4.8 9.2zM398 501.1h9.6l-4.8 9.2zM399.6 500.6h9.6l-4.8 9.2zM401.3 501.3h9.6l-4.8 9.2zM403 501h9.6l-4.8 9.2zM404.6 501.2h9.6l-4.8 9.2zM406.3 500.7h9.6l-4.8 9.2zM408 500.9h9.6l-4.8 9.2zM409.6 500.7h9.6l-4.8 9.2zM411.3 501.4h9.6l-4.8 9.2zM413 501.1h9.6l-4.8 9.2zM414.7 501.3h9.6l-4.8 9.2zM416.3 500.6h9.6l-4.8 9.2zM418 500.8h9.6l-4.8 9.2zM419.7 501h9.6l-4.8 9.2zM421.3 501h9.6l-4.8 9.2zM423 500.7h9.6l-4.8 9.2zM424.7 501h9.6l-4.8 9.2zM426.3 501h9.6l-4.8 9.2zM428 500.6h9.6l-4.8 9.2zM429.7 499.9h9.6l-4.8 9.2zM431.3 500.7h9.6l-4.8 9.2zM433 500.7h9.6l-4.8 9.2zM434.7 500.9h9.6l-4.8 9.2zM436.3 500.9h9.6l-4.8 9.2zM438 500.2h9.6l-4.8 9.2zM439.7 500h9.6l-4.8 9.2zM441.3 500.2h9.6l-4.8 9.2zM443 499.9h9.6l-4.8 9.2zM444.7 499.9h9.6l-4.8 9.2zM446.3 499.8h9.6l-4.8 9.2zM448 500.2h9.6l-4.8 9.2zM449.7 499.8h9.6l-4.8 9.2zM451.3 510.8h9.6l-4.8 9.2zM453 499.9h9.6l-4.8 9.2zM454.7 499.8h9.6l-4.8 9.2zM456.3 499.9h9.6l-4.8 9.2zM458 499.8h9.6l-4.8 9.2zM459.7 499.4h9.6l-4.8 9.2zM461.4 499.2h9.6l-4.8 9.2zM463 498.5h9.6l-4.8 9.2zM464.7 498.5h9.6l-4.8 9.2zM466.4 498.5h9.6l-4.8 9.2zM468 497.8h9.6l-4.8 9.2zM469.7 496.9h9.6l-4.8 9.2zM471.4 496.3h9.6l-4.8 9.2zM473 496h9.6l-4.8 9.2zM474.7 495h9.6l-4.8 9.2zM476.4 494.2h9.6l-4.8 9.2zM478 492.7h9.6l-4.8 9.2zM479.7 491.2h9.6l-4.8 9.2zM481.4 487.3h9.6l-4.8 9.2zM483 484.9h9.6l-4.8 9.2zM484.7 481.9h9.6l-4.8 9.2zM486.4 478.3h9.6l-4.8 9.2zM488 473.2h9.6l-4.8 9.2zM489.7 456.9h9.6l-4.8 9.2zM491.4 439.1h9.6l-4.8 9.2zM493 412h9.6l-4.8 9.2zM494.7 372.9h9.6l-4.8 9.2zM496.4 320.1h9.6l-4.8 9.2zM498 258.4h9.6l-4.8 9.2zM499.7 196.7h9.6l-4.8 9.2zM501.4 147h9.6l-4.8 9.2zM503 117.4h9.6l-4.8 9.2zM504.7 117.4h9.6l-4.8 9.2zM506.4 92.7h9.6l-4.8 9.2zM508.1 78.6h9.6l-4.8 9.2zM509.7 94.8h9.6l-4.8 9.2zM511.4 115.3h9.6l-4.8 9.2zM513.1 170.7h9.6l-4.8 9.2zM514.7 270.4h9.6l-4.8 9.2zM516.4 374.1h9.6l-4.8 9.2zM518.1 424.7h9.6l-4.8 9.2zM519.7 455.1h9.6l-4.8 9.2zM521.4 468h9.6l-4.8 9.2zM523.1 477.1h9.6l-4.8 9.2zM524.7 482.5h9.6l-4.8 9.2zM526.4 485.2h9.6l-4.8 9.2zM528.1 486.7h9.6l-4.8 9.2zM529.7 487.9h9.6l-4.8 9.2zM531.4 488.8h9.6l-4.8 9.2zM533.1 490.3h9.6l-4.8 9.2zM534.7 491.3h9.6l-4.8 9.2zM536.4 492.7h9.6l-4.8 9.2zM538.1 493.6h9.6l-4.8 9.2zM539.7 495.1h9.6l-4.8 9.2zM541.4 496h9.6l-4.8 9.2zM543.1 496.9h9.6l-4.8 9.2zM544.7 497.3h9.6l-4.8 9.2zM546.4 498.3h9.6l-4.8 9.2zM548.1 498.5h9.6l-4.8 9.2zM549.8 498.4h9.6l-4.8 9.2zM551.4 499.1h9.6l-4.8 9.2zM553.1 499.5h9.6l-4.8 9.2zM554.8 499.2h9.6l-4.8 9.2zM556.4 500.7h9.6l-4.8 9.2zM558.1 500.1h9.6l-4.8 9.2zM559.8 500.2h9.6l-4.8 9.2zM561.4 500.7h9.6l-4.8 9.2zM563.1 501h9.6l-4.8 9.2zM564.8 500.9h9.6l-4.8 9.2zM566.4 500.9h9.6l-4.8 9.2zM568.1 501.1h9.6l-4.8 9.2zM569.8 501.3h9.6l-4.8 9.2zM571.4 502.2h9.6l-4.8 9.2zM573.1 502.5h9.6l-4.8 9.2zM574.8 502h9.6l-4.8 9.2zM576.4 502.4h9.6l-4.8 9.2zM578.1 502.8h9.6l-4.8 9.2zM579.8 502.3h9.6l-4.8 9.2zM581.4 502.3h9.6l-4.8 9.2zM583.1 502.3h9.6l-4.8 9.2zM584.8 502.7h9.6l-4.8 9.2zM586.4 502.1h9.6l-4.8 9.2zM588.1 502.1h9.6l-4.8 9.2zM589.8 502.7h9.6l-4.8 9.2zM591.4 502.6h9.6l-4.8 9.2zM593.1 502.4h9.6l-4.8 9.2zM594.8 502.5h9.6l-4.8 9.2zM596.5 501.9h9.6l-4.8 9.2zM598.1 502.3h9.6l-4.8 9.2zM599.8 502.7h9.6l-4.8 9.2zM601.5 502.7h9.6l-4.8 9.2zM603.1 502.4h9.6l-4.8 9.2zM604.8 501.7h9.6l-4.8 9.2zM606.5 502.5h9.6l-4.8 9.2zM608.1 502.4h9.6l-4.8 9.2zM609.8 502.3h9.6l-4.8 9.2zM611.5 502.5h9.6l-4.8 9.2zM613.1 501.8h9.6l-4.8 9.2zM614.8 502.6h9.6l-4.8 9.2zM616.5 502.3h9.6l-4.8 9.2zM618.1 502.4h9.6l-4.8 9.2zM619.8 502.3h9.6l-4.8 9.2zM621.5 502.9h9.6l-4.8 9.2zM623.1 502h9.6l-4.8 9.2zM624.8 502.6h9.6l-4.8 9.2zM626.5 502.5h9.6l-4.8 9.2zM628.1 502.8h9.6l-4.8 9.2zM629.8 502.8h9.6l-4.8 9.2zM631.5 502.4h9.6l-4.8 9.2zM633.1 502.2h9.6l-4.8 9.2zM634.8 502.3h9.6l-4.8 9.2zM636.5 502.2h9.6l-4.8 9.2zM638.1 502.3h9.6l-4.8 9.2zM639.8 502.6h9.6l-4.8 9.2zM641.5 502.3h9.6l-4.8 9.2zM643.2 502.4h9.6l-4.8 9.2zM644.8 502.6h9.6l-4.8 9.2zM646.5 502.4h9.6l-4.8 9.2zM648.2 502.2h9.6l-4.8 9.2zM649.8 502.5h9.6l-4.8 9.2zM651.5 502.7h9.6l-4.8 9.2zM653.2 502.4h9.6l-4.8 9.2zM654.8 502h9.6l-4.8 9.2zM656.5 502.7h9.6l-4.8 9.2zM658.2 502.6h9.6l-4.8 9.2zM659.8 502.7h9.6l-4.8 9.2zM661.5 502.3h9.6l-4.8 9.2zM663.2 503.2h9.6l-4.8 9.2zM664.8 502.5h9.6l-4.8 9.2zM666.5 502.3h9.6l-4.8 9.2zM668.2 502.9h9.6l-4.8 9.2zM669.8 502.2h9.6l-4.8 9.2zM671.5 502.5h9.6l-4.8 9.2zM673.2 502.8h9.6l-4.8 9.2zM674.8 502.6h9.6l-4.8 9.2zM676.5 503.1h9.6l-4.8 9.2zM678.2 502.9h9.6l-4.8 9.2zM679.8 502.1h9.6l-4.8 9.2zM681.5 503h9.6l-4.8 9.2zM683.2 502.1h9.6l-4.8 9.2zM684.8 502.7h9.6l-4.8 9.2zM686.5 502.4h9.6l-4.8 9.2zM688.2 502.7h9.6l-4.8 9.2zM689.9 503.4h9.6l-4.8 9.2zM691.5 502.9h9.6l-4.8 9.2zM693.2 502.7h9.6l-4.8 9.2zM694.9 503.1h9.6l-4.8 9.2zM696.5 503.1h9.6l-4.8 9.2zM698.2 502.6h9.6l-4.8 9.2zM699.9 502.9h9.6l-4.8 9.2zM701.5 503.3h9.6l-4.8 9.2zM703.2 503h9.6l-4.8 9.2zM704.9 502.5h9.6l-4.8 9.2zM706.5 502.9h9.6l-4.8 9.2zM708.2 502.5h9.6l-4.8 9.2zM709.9 502.3h9.6l-4.8 9.2zM711.5 502.8h9.6l-4.8 9.2zM713.2 503.1h9.6l-4.8 9.2zM714.9 503.2h9.6l-4.8 9.2zM716.5 502.8h9.6l-4.8 9.2zM718.2 502.5h9.6l-4.8 9.2zM719.9 502.7h9.6l-4.8 9.2zM721.5 502.6h9.6l-4.8 9.2zM723.2 502.9h9.6l-4.8 9.2zM724.9 502.7h9.6l-4.8 9.2zM726.5 503h9.6l-4.8 9.2zM728.2 502.9h9.6l-4.8 9.2zM729.9 503.2h9.6l-4.8 9.2zM731.5 503.3h9.6l-4.8 9.2zM733.2 503h9.6l-4.8 9.2zM734.9 503.2h9.6l-4.8 9.2zM736.6 503.1h9.6l-4.8 9.2zM738.2 502.7h9.6l-4.8 9.2zM739.9 502.9h9.6l-4.8 9.2zM741.6 502h9.6l-4.8 9.2zM743.2 502.6h9.6l-4.8 9.2zM744.9 503.1h9.6l-4.8 9.2zM746.6 502.6h9.6l-4.8 9.2zM748.2 502.8h9.6l-4.8 9.2zM749.9 503.1h9.6l-4.8 9.2zM751.6 502.6h9.6l-4.8 9.2zM753.2 503.1h9.6l-4.8 9.2zM754.9 503.8h9.6l-4.8 9.2zM756.6 502.7h9.6l-4.8 9.2zM758.2 503.1h9.6l-4.8 9.2zM759.9 502.5h9.6l-4.8 9.2zM761.6 503.1h9.6l-4.8 9.2zM763.2 503.3h9.6l-4.8 9.2zM764.9 502.5h9.6l-4.8 9.2zM766.6 503.3h9.6l-4.8 9.2zM768.2 502.9h9.6l-4.8 9.2zM769.9 502.5h9.6l-4.8 9.2zM771.6 502.9h9.6l-4.8 9.2zM773.2 503h9.6l-4.8 9.2zM774.9 502.9h9.6l-4.8 9.2zM776.6 502.7h9.6l-4.8 9.2zM778.2 503.2h9.6l-4.8 9.2zM779.9 502.8h9.6l-4.8 9.2zM781.6 502.8h9.6l-4.8 9.2zM783.3 502.3h9.6l-4.8 9.2zM784.9 503.1h9.6l-4.8 9.2zM786.6 503.3h9.6l-4.8 9.2zM788.3 502.8h9.6l-4.8 9.2zM789.9 503.1h9.6l-4.8 9.2zM791.6 502.9h9.6l-4.8 9.2zM793.3 503h9.6l-4.8 9.2zM794.9 502.6h9.6l-4.8 9.2zM796.6 503.2h9.6l-4.8 9.2zM798.3 503h9.6l-4.8 9.2zM799.9 503.8h9.6l-4.8 9.2zM801.6 503.3h9.6l-4.8 9.2zM803.3 502.6h9.6l-4.8 9.2zM804.9 503.2h9.6l-4.8 9.2zM806.6 503.2h9.6l-4.8 9.2zM808.3 503.4h9.6l-4.8 9.2zM809.9 502.9h9.6l-4.8 9.2zM811.6 503h9.6l-4.8 9.2zM813.3 503.4h9.6l-4.8 9.2zM814.9 502.8h9.6l-4.8 9.2zM816.6 503h9.6l-4.8 9.2zM818.3 502.8h9.6l-4.8 9.2zM819.9 503.2h9.6l-4.8 9.2zM821.6 502.5h9.6l-4.8 9.2zM823.3 502.9h9.6l-4.8 9.2zM824.9 503.1h9.6l-4.8 9.2zM826.6 503.2h9.6l-4.8 9.2zM828.3 503.1h9.6l-4.8 9.2zM830 502.8h9.6l-4.8 9.2zM831.6 503.2h9.6l-4.8 9.2zM833.3 502.8h9.6l-4.8 9.2zM835 502.9h9.6l-4.8 9.2zM836.6 502.7h9.6l-4.8 9.2zM838.3 502.8h9.6l-4.8 9.2zM840 503.1h9.6l-4.8 9.2zM841.6 503.7h9.6l-4.8 9.2zM843.3 503h9.6l-4.8 9.2zM845 502.9h9.6l-4.8 9.2zM846.6 503h9.6l-4.8 9.2zM848.3 502.9h9.6l-4.8 9.2zM850 503.2h9.6l-4.8 9.2zM851.6 503.2h9.6l-4.8 9.2zM853.3 503.4h9.6l-4.8 9.2zM855 502.7h9.6l-4.8 9.2zM856.6 503.1h9.6l-4.8 9.2zM858.3 503.3h9.6l-4.8 9.2zM860 503.5h9.6l-4.8 9.2z" fill="#f00"/>
<!-- axes -->
<path d="M123.5 13.0V615.4M116.5 615.4H939.1" stroke="#000" stroke-width="2" fill="none"/>
<path d="M111.0 575.7H123.5M111.0 495.3H123.5M111.0 414.9H123.5M111.0 334.5H123.5M111.0 254.2H123.5M111.0 173.8H123.5M111.0 93.4H123.5M111.0 13H123.5M116.5 615.9H123.5M116.5 535.5H123.5M116.5 455.1H123.5M116.5 374.7H123.5M116.5 294.3H123.5M116.5 214H123.5M116.5 133.6H123.5M116.5 53.2H123.5M123.5 615.4V627.9M197.6 615.4V627.9M271.8 615.4V627.9M345.9 615.4V627.9M420 615.4V627.9M494.1 615.4V627.9M568.3 615.4V627.9M642.4 615.4V627.9M716.5 615.4V627.9M790.6 615.4V627.9M864.8 615.4V627.9M938.9 615.4V627.9M160.6 615.4V622.4M234.7 615.4V622.4M308.8 615.4V622.4M382.9 615.4V622.4M457.1 615.4V622.4M531.2 615.4V622.4M605.3 615.4V622.4M679.5 615.4V622.4M753.6 615.4V622.4M827.7 615.4V622.4M901.8 615.4V622.4" stroke="#000" stroke-width="2" fill="none"/>
<path d="M123.5 13.0H939.1V616.4" stroke="#e00000" stroke-width="2" fill="none"/>
<path d="M925.9 540.1H939.1M925.9 389.5H939.1M925.9 238.9H939.1M925.9 88.3H939.1M932.1 615.4H939.1M932.1 464.8H939.1M932.1 314.2H939.1M932.1 163.6H939.1M932.1 13H939.1" stroke="#e00000" stroke-width="2" fill="none"/>
<path d="M111.0 13.0H124.5" stroke="#000" stroke-width="2"/>
<g font-size="26.5" fill="#000"><text x="102.5" y="583.2" text-anchor="end">0.0</text><text x="102.5" y="502.8" text-anchor="end">0.1</text><text x="102.5" y="422.4" text-anchor="end">0.2</text><text x="102.5" y="342" text-anchor="end">0.3</text><text x="102.5" y="261.7" text-anchor="end">0.4</text><text x="102.5" y="181.3" text-anchor="end">0.5</text><text x="102.5" y="100.9" text-anchor="end">0.6</text><text x="102.5" y="20.5" text-anchor="end">0.7</text><text x="123.5" y="656.6" text-anchor="middle">0</text><text x="197.6" y="656.6" text-anchor="middle">20</text><text x="271.8" y="656.6" text-anchor="middle">40</text><text x="345.9" y="656.6" text-anchor="middle">60</text><text x="420" y="656.6" text-anchor="middle">80</text><text x="494.1" y="656.6" text-anchor="middle">100</text><text x="568.3" y="656.6" text-anchor="middle">120</text><text x="642.4" y="656.6" text-anchor="middle">140</text><text x="716.5" y="656.6" text-anchor="middle">160</text><text x="790.6" y="656.6" text-anchor="middle">180</text><text x="864.8" y="656.6" text-anchor="middle">200</text><text x="938.9" y="656.6" text-anchor="middle">220</text></g>
<g font-size="26.5" fill="#e00000"><text x="951.5" y="547.6">-100</text><text x="951.5" y="397">-50</text><text x="951.5" y="246.4">0</text><text x="951.5" y="95.8">50</text></g>
<text x="531.5" y="706.2" font-size="32.7" text-anchor="middle">Frequency(Hz)</text>
<text transform="translate(25.6 313) rotate(-90)" font-size="32.7" text-anchor="middle">Impedance(MOhm)</text>
<text transform="translate(1041.5 313.5) rotate(-90)" font-size="32.7" text-anchor="middle" fill="#f00">Phase Angle(°)</text>
<!-- legend -->
<rect x="634.5" y="27.5" width="282.5" height="78" fill="#fff" stroke="#333" stroke-width="1.2"/>
<path d="M646.4 47.3H718.9" stroke="#222" stroke-width="1.1"/>
<rect x="679.5" y="44.3" width="6" height="6" fill="#000"/>
<path d="M646.4 87.2H718.9" stroke="#e44" stroke-width="1.2"/>
<path d="M678.6 84.9h7.8l-3.9 7z" fill="#f00"/>
<text x="727" y="58.1" font-size="32.7">Impedance</text>
<text x="727" y="97.6" font-size="32.7">Phase Angle</text>
</svg>
</body></html>
